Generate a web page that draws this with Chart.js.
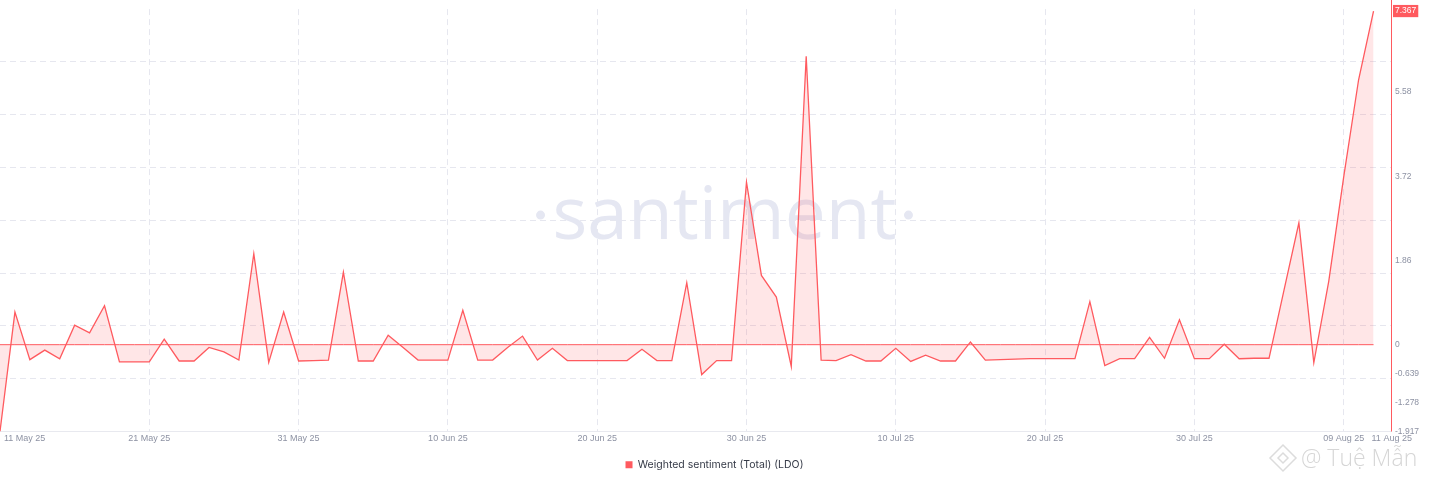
<!DOCTYPE html>
<html>
<head>
<meta charset="utf-8">
<script src="https://cdn.jsdelivr.net/npm/chart.js@4"></script>
<style>
  html, body { margin: 0; padding: 0; background: #fff; }
  #wrap { width: 1429px; height: 484px; position: relative; }
</style>
</head>
<body>
<div id="wrap"><canvas id="sentChart"></canvas></div>
<script>
// Weighted sentiment (Total) (LDO), daily from 11 May 25 to 11 Aug 25
const sentiment = [
  -1.917, 0.72, -0.33, -0.12, -0.31, 0.43, 0.26, 0.86, -0.38, -0.38,
  -0.38, 0.12, -0.36, -0.36, -0.06, -0.16, -0.34, 2.01, -0.39, 0.72,
  -0.36, -0.35, -0.34, 1.60, -0.36, -0.36, 0.21, -0.06, -0.34, -0.34,
  -0.34, 0.76, -0.34, -0.34, -0.06, 0.19, -0.34, -0.08, -0.35, -0.35,
  -0.35, -0.35, -0.35, -0.10, -0.35, -0.35, 1.37, -0.66, -0.35, -0.35,
  3.59, 1.53, 1.05, -0.48, 6.37, -0.34, -0.35, -0.22, -0.36, -0.36,
  -0.08, -0.37, -0.23, -0.36, -0.36, 0.06, -0.34, -0.33, -0.32, -0.31,
  -0.31, -0.31, -0.31, 0.95, -0.46, -0.31, -0.31, 0.16, -0.30, 0.55,
  -0.31, -0.31, 0.01, -0.31, -0.30, -0.30, 1.20, 2.69, -0.40, 1.40,
  3.70, 5.85, 7.367
];
const baseline = sentiment.map(() => 0);

// x axis: day index -> label
const xTickDays = [0, 10, 20, 30, 40, 50, 60, 70, 80, 90, 92];
const xTickLabels = ['11 May 25', '21 May 25', '31 May 25', '10 Jun 25', '20 Jun 25',
  '30 Jun 25', '10 Jul 25', '20 Jul 25', '30 Jul 25', '09 Aug 25', '11 Aug 25'];
const xGridDays = [10, 20, 30, 40, 50, 60, 70, 80, 90];

// y axis labels on the right
const yTicks = [-1.917, -1.278, -0.639, 0, 1.86, 3.72, 5.58, 7.367];
const lastValue = 7.367;
const yMin = -1.917;
const yMax = 7.41;
const xMax = 93.17;

const lineRed = '#ff5a5f';
const tickGrey = '#8d92a3';
const gridColor = '#e6e7ef';

const extras = {
  id: 'extras',
  beforeDatasetsDraw(chart) {
    const { ctx, chartArea } = chart;
    const cx = (chartArea.left + chartArea.right) / 2 + 29;
    const base = chartArea.top + 230;
    ctx.save();
    ctx.fillStyle = '#e5e7f2';
    ctx.font = '400 73px "Open Sans"';
    ctx.textAlign = 'center';
    ctx.textBaseline = 'alphabetic';
    ctx.fillText('santiment', cx, base);
    const w = ctx.measureText('santiment').width;
    ctx.beginPath();
    ctx.arc(cx - w / 2 - 12, base - 24, 4.5, 0, Math.PI * 2);
    ctx.arc(cx + w / 2 + 12, base - 24, 4.5, 0, Math.PI * 2);
    ctx.fill();
    ctx.restore();
  },
  afterDraw(chart) {
    const { ctx, chartArea } = chart;
    const xs = chart.scales.x;
    ctx.save();
    // red right axis line
    ctx.strokeStyle = lineRed;
    ctx.lineWidth = 1;
    ctx.beginPath();
    ctx.moveTo(Math.round(chartArea.right) + 0.5, 0);
    ctx.lineTo(Math.round(chartArea.right) + 0.5, chartArea.bottom);
    ctx.stroke();

    ctx.font = '9px "Liberation Sans", Arial, sans-serif';
    ctx.fillStyle = tickGrey;
    ctx.textBaseline = 'middle';
    const ty = chartArea.bottom + 7;
    xTickDays.forEach((d, i) => {
      const px = xs.getPixelForValue(d);
      if (i === 0) {
        ctx.textAlign = 'left';
        ctx.fillText(xTickLabels[i], px + 4, ty);
      } else if (i === xTickDays.length - 1) {
        ctx.textAlign = 'left';
        ctx.fillText(xTickLabels[i], px - 2, ty);
      } else {
        ctx.textAlign = 'center';
        ctx.fillText(xTickLabels[i], px, ty);
      }
    });

    // corner watermark
    const wx = chart.width - 146, wy = chart.height - 26;
    ctx.strokeStyle = '#dcdcdc';
    ctx.lineWidth = 1.5;
    ctx.beginPath();
    ctx.moveTo(wx, wy - 13); ctx.lineTo(wx + 13, wy); ctx.lineTo(wx, wy + 13); ctx.lineTo(wx - 13, wy); ctx.closePath();
    ctx.moveTo(wx, wy - 5); ctx.lineTo(wx + 5, wy); ctx.lineTo(wx, wy + 5); ctx.lineTo(wx - 5, wy); ctx.closePath();
    ctx.stroke();
    ctx.fillStyle = '#d6d6d6';
    ctx.font = '300 23px "Open Sans"';
    ctx.textAlign = 'left';
    ctx.fillText('@ Tuệ Mẫn', wx + 18, wy + 1);
    ctx.restore();
  }
};

new Chart(document.getElementById('sentChart'), {
  type: 'line',
  data: {
    datasets: [{
      label: 'Weighted sentiment (Total) (LDO)',
      data: sentiment.map((v, i) => ({ x: i, y: v })),
      borderColor: lineRed,
      backgroundColor: 'rgba(255, 90, 95, 0.15)',
      borderWidth: 1.3,
      fill: 'origin',
      pointRadius: 0,
      tension: 0,
      yAxisID: 'y'
    }, {
      label: 'zero',
      data: baseline.map((v, i) => ({ x: i, y: v })),
      borderColor: lineRed,
      borderWidth: 1,
      fill: false,
      pointRadius: 0,
      yAxisID: 'y'
    }]
  },
  options: {
    responsive: true,
    maintainAspectRatio: false,
    animation: false,
    layout: { padding: { top: 5, left: 0, right: 0, bottom: 4 } },
    plugins: {
      tooltip: { enabled: false },
      legend: {
        position: 'bottom',
        labels: {
          generateLabels: chart => Chart.defaults.plugins.legend.labels.generateLabels(chart)
            .filter(item => item.datasetIndex === 0)
            .map(item => Object.assign(item, { fillStyle: lineRed, strokeStyle: lineRed, lineWidth: 0 })),
          usePointStyle: true,
          pointStyle: 'rect',
          boxWidth: 7,
          boxHeight: 7,
          color: '#353a47',
          font: { size: 10.5, family: 'Inter, "Liberation Sans", sans-serif' },
          padding: 10
        }
      }
    },
    scales: {
      x: {
        type: 'linear',
        min: 0,
        max: xMax,
        afterBuildTicks: s => { s.ticks = xGridDays.map(v => ({ value: v })); },
        ticks: { display: false },
        grid: { color: gridColor, drawTicks: false },
        border: { color: '#e8e9ef', dash: [6, 4] },
        afterFit: s => { s.height = 18; }
      },
      yGrid: {
        position: 'left',
        min: yMin,
        max: yMax,
        afterBuildTicks: s => {
          const step = (yMax - yMin) / 8;
          const t = [];
          for (let k = 1; k < 8; k++) t.push({ value: yMin + k * step });
          s.ticks = t;
        },
        ticks: { display: false },
        grid: { color: gridColor, drawTicks: false },
        border: { display: false, dash: [6, 4] },
        afterFit: s => { s.width = 0; }
      },
      y: {
        position: 'right',
        min: yMin,
        max: yMax,
        afterBuildTicks: s => { s.ticks = yTicks.map(v => ({ value: v })); },
        grid: { display: false, drawTicks: false },
        border: { display: false },
        ticks: {
          padding: 4,
          crossAlign: 'near',
          font: { size: 8.5, family: '"Liberation Sans", Arial, sans-serif' },
          color: c => c.tick && c.tick.value === lastValue ? '#ffffff' : tickGrey,
          showLabelBackdrop: c => !!(c.tick && c.tick.value === lastValue),
          backdropColor: lineRed,
          backdropPadding: { top: 1, bottom: 1, left: 2, right: 2 },
          callback: v => String(v)
        },
        afterFit: s => { s.width = 38; }
      }
    }
  },
  plugins: [extras]
});
</script>
</body>
</html>
